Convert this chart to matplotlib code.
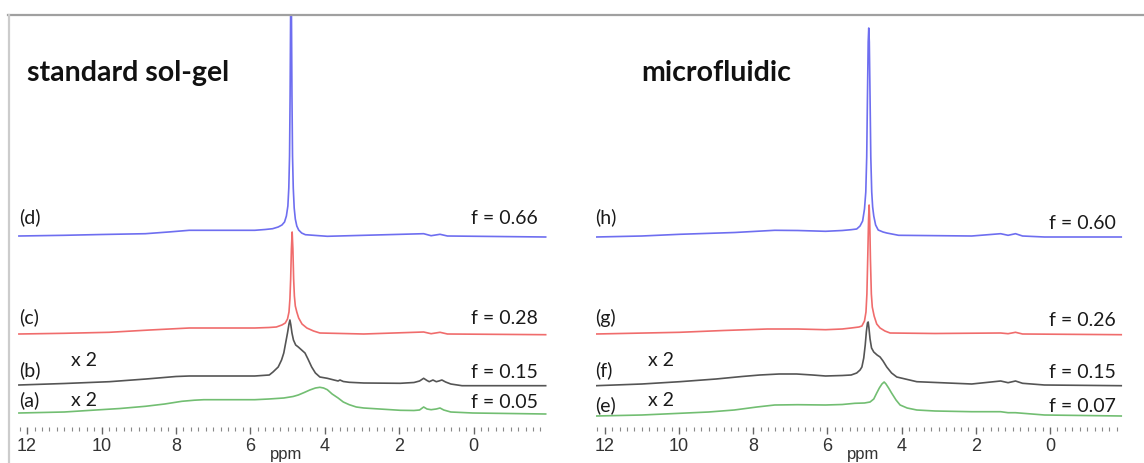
import matplotlib.pyplot as plt
from matplotlib.lines import Line2D

# 1H NMR traces: chemical shift (ppm) and height above each baseline (px-ish units)
# standard sol-gel
ppm_a = [12.22, 11.0, 10.28, 9.5, 8.82, 8.3, 7.84, 7.5, 7.25, 6.5, 5.88, 5.5, 5.10, 4.85, 4.71, 4.55,
         4.40, 4.25, 4.13, 4.03, 3.93, 3.80, 3.64, 3.50, 3.34, 3.15, 2.95, 1.97, 1.6, 1.45, 1.34, 1.25,
         1.14, 1.0, 0.90, 0.80, 0.61, 0.02, -1.94]
int_a = [0, 1, 2.7, 4.5, 6.7, 9, 11.7, 12.8, 13.3, 13.3, 13.3, 14, 15, 16.5, 18, 20.5,
         23, 25, 25.7, 25, 23.3, 19, 15, 11, 8.3, 6, 5, 2.7, 2.5, 3, 6, 4,
         3.3, 4, 5, 3, 1, 0, -1]

ppm_b = [12.22, 11.0, 9.79, 8.8, 8.0, 7.64, 6.8, 5.88, 5.49, 5.39, 5.25, 5.16, 5.10, 5.05, 5.0, 4.96,
         4.935, 4.91, 4.88, 4.84, 4.78, 4.71, 4.62, 4.53, 4.45, 4.35, 4.25, 4.13, 3.93, 3.75, 3.64,
         3.59, 3.50, 3.34, 2.95, 1.97, 1.6, 1.45, 1.34, 1.25, 1.19, 1.09, 1.00, 0.93, 0.85, 0.75,
         0.61, 0.31, -1.94]
int_b = [0, 1.5, 3.3, 6, 8.5, 9, 9, 9, 10, 13, 18, 25, 32, 42, 52, 61,
         65, 60, 52, 45, 40, 38, 35, 32, 26, 18, 12, 8, 6.7, 5, 4,
         5, 3.5, 2.7, 2, 1.7, 2.5, 4, 6.7, 4.5, 3.3, 5, 3.3, 4, 5, 3,
         1, -0.7, -0.7]

ppm_c = [12.22, 11.0, 9.79, 8.7, 7.64, 6.8, 5.88, 5.5, 5.30, 5.15, 5.06, 5.0, 4.96, 4.935, 4.915,
         4.895, 4.875, 4.855, 4.835, 4.815, 4.79, 4.75, 4.70, 4.61, 4.48, 4.30, 4.13, 2.95, 1.34,
         1.14, 0.90, 0.70, -1.94]
int_c = [0, 0.7, 1.7, 4, 6, 6, 6, 6.5, 7, 9, 11, 15, 22, 35, 55,
         85, 102, 85, 55, 38, 28, 22, 16, 10, 6, 3, 1, 0, 2,
         0.3, 1.7, 0, -0.7]

ppm_d = [12.22, 11.0, 10.0, 8.82, 8.2, 7.64, 6.8, 5.88, 5.6, 5.40, 5.25, 5.15, 5.08, 5.03, 4.99,
         4.965, 4.945, 4.93, 4.915, 4.905, 4.895, 4.88, 4.865, 4.845, 4.82, 4.79, 4.75, 4.70, 4.62,
         4.52, 3.93, 1.34, 1.14, 0.90, 0.70, -1.94]
int_d = [0, 0.7, 1.5, 2.3, 4, 5.7, 5.7, 5.7, 6.5, 7.3, 9, 11, 14, 20, 30,
         48, 80, 140, 230, 260, 230, 140, 80, 48, 28, 17, 10, 6, 3,
         1.3, -0.3, 2.3, 0.3, 1.7, 0, -1]

# microfluidic
ppm_e = [12.24, 11.0, 9.98, 9.2, 8.51, 7.9, 7.42, 6.8, 6.05, 5.6, 5.26, 5.0, 4.85, 4.75, 4.67,
         4.60, 4.53, 4.47, 4.42, 4.35, 4.27, 4.15, 4.04, 3.85, 3.59, 3.10, 2.11, 1.33, 1.13, 0.93,
         0.15, -1.92]
int_e = [-1, 0, 1.7, 3, 5, 8, 10, 10.3, 10, 10.5, 11.7, 12, 13, 16, 22,
         27, 31, 33, 31, 27, 22, 15, 10, 7, 5, 4, 3.3, 3.3, 2.3, 2.3,
         0, -1]

ppm_f = [12.24, 11.0, 9.98, 9.0, 8.3, 7.82, 7.3, 6.83, 6.4, 6.05, 5.6, 5.36, 5.21, 5.12, 5.07,
         5.02, 4.98, 4.95, 4.92, 4.90, 4.88, 4.85, 4.81, 4.75, 4.66, 4.58, 4.50, 4.40, 4.27, 4.13,
         3.59, 2.11, 1.33, 1.13, 0.93, 0.74, 0.15, -1.92]
int_f = [-0.7, 1, 3.3, 6, 8.5, 10, 11, 11, 10, 9, 9.5, 10, 12, 15, 18,
         27, 40, 53, 62, 63, 57, 46, 37, 33, 30, 28, 24, 18, 12, 8,
         3.3, 1, 4, 2.3, 4, 1.7, 0, -0.7]

ppm_g = [12.24, 9.98, 8.8, 7.62, 6.8, 6.05, 5.6, 5.36, 5.15, 5.07, 5.0, 4.96, 4.935, 4.91, 4.89,
         4.875, 4.86, 4.84, 4.815, 4.79, 4.74, 4.67, 4.58, 4.45, 4.31, 3.10, 1.33, 1.13, 0.93,
         0.74, -1.92]
int_g = [0, 1.7, 3.5, 5, 5, 4.3, 5, 6, 7, 8, 13, 22, 40, 80, 115,
         129, 115, 75, 40, 27, 18, 10, 6, 3, 1, 0.5, 1, 0.3, 1.7,
         0, -0.7]

ppm_h = [12.24, 11.0, 9.98, 8.5, 7.42, 6.8, 6.05, 5.6, 5.36, 5.21, 5.12, 5.05, 5.0, 4.965, 4.94,
         4.92, 4.90, 4.885, 4.87, 4.85, 4.83, 4.805, 4.78, 4.75, 4.70, 4.63, 4.50, 4.40, 4.08,
         2.11, 1.33, 1.13, 0.93, 0.74, 0.15, -1.92]
int_h = [0, 1, 2.7, 4.5, 6.7, 6.5, 5.7, 6.5, 7.3, 8, 11, 16, 28, 45, 80,
         140, 195, 209, 195, 140, 80, 45, 30, 21, 12, 7, 5, 4, 1.7,
         1, 3.3, 1.7, 3.3, 1, 0, 0]

letters_left = ['(a)', '(b)', '(c)', '(d)']
letters_right = ['(e)', '(f)', '(g)', '(h)']
f_left = ['f = 0.05', 'f = 0.15', 'f = 0.28', 'f = 0.66']
f_right = ['f = 0.07', 'f = 0.15', 'f = 0.26', 'f = 0.60']
scale_labels = ['x 2', 'x 2', '', '']
titles = ['standard sol-gel', 'microfluidic']

colors = ['#72be72', '#555555', '#f06c6c', '#6e6ef0']
offsets_left = [14, 42, 93, 191]
offsets_right = [12, 42, 93, 190]

W, H = 1144, 463
fig = plt.figure(figsize=(W / 100, H / 100), dpi=100)

LABEL_FONT = ['Lato', 'DejaVu Sans']
TICK_FONT = ['Liberation Sans', 'DejaVu Sans']


def make_axes(x0, x1):
    # x0, x1 in pixels, y from 427 (tick row) to 15 (top line)
    ax = fig.add_axes([x0 / W, (H - 427) / H, (x1 - x0) / W, 412 / H])
    ax.set_xlim(12.25, -2.0)
    ax.set_ylim(0, 412)
    for s in ax.spines.values():
        s.set_visible(False)
    ax.set_yticks([])
    ax.set_xticks([12, 10, 8, 6, 4, 2, 0])
    ax.set_xticks([t / 5 for t in range(-9, 62)], minor=True)
    ax.tick_params(axis='x', which='major', length=5, width=1.0, color='#666666', pad=3,
                   labelsize=13, labelcolor='#333333')
    ax.tick_params(axis='x', which='minor', length=3, width=0.8, color='#888888')
    for lab in ax.get_xticklabels():
        lab.set_family(TICK_FONT)
    ax.text(5.05, -27, 'ppm', ha='center', va='center', fontsize=12, color='#333333',
            family=TICK_FONT, clip_on=False)
    return ax


left = make_axes(17.8, 547.9)
right = make_axes(595.5, 1124.2)

traces_left = [(ppm_a, int_a), (ppm_b, int_b), (ppm_c, int_c), (ppm_d, int_d)]
traces_right = [(ppm_e, int_e), (ppm_f, int_f), (ppm_g, int_g), (ppm_h, int_h)]

panels = [
    (left, traces_left, offsets_left, letters_left, f_left, 12.22, 10.82, -1.73, 11.99, [27, 57, 110, 210], [24, 55, 108, 209]),
    (right, traces_right, offsets_right, letters_right, f_right, 12.25, 10.84, -1.78, 11.02, [22, 57, 109, 210], [20, 55, 107, 204]),
]

for i, (ax, traces, offs, letters, fl, lx, sx, fx, tx, ly, fy) in enumerate(panels):
    for (p, v), off, c in zip(traces, offs, colors):
        ax.plot(p, [off + y for y in v], color=c, lw=1.2, solid_joinstyle='round')
    for j in range(4):
        ax.text(lx, ly[j], letters[j], ha='left', va='center', fontsize=14, family=LABEL_FONT, color='#1a1a1a')
        ax.text(fx, fy[j], fl[j], ha='right', va='center', fontsize=14, family=LABEL_FONT, color='#1a1a1a')
        if scale_labels[j]:
            ax.text(sx, 67 if j == 1 else 27, scale_labels[j], ha='left', va='center', fontsize=14,
                    family=LABEL_FONT, color='#1a1a1a')
    ax.text(tx, 354, titles[i], ha='left', va='center', fontsize=20.5, fontweight='bold',
            family=LABEL_FONT, color='#111111')

# frame lines of the original figure
fig.add_artist(Line2D([8 / W, 1.0], [(H - 15) / H, (H - 15) / H], color='#a0a0a0', lw=1.6))
fig.add_artist(Line2D([9 / W, 9 / W], [0, (H - 15) / H], color='#cccccc', lw=1.6))

fig.savefig('out.png', dpi=100)
